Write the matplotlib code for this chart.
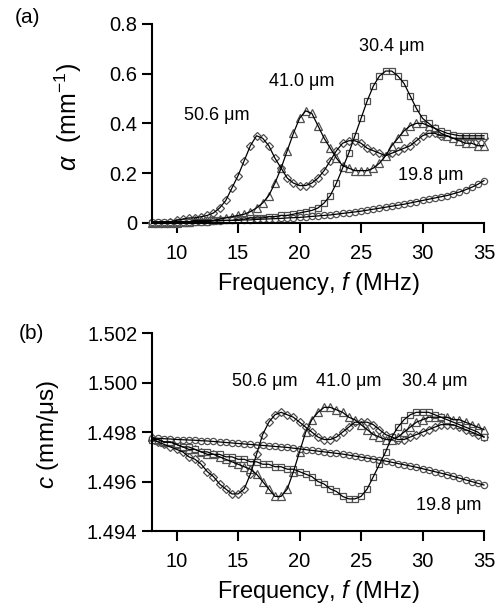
import matplotlib
matplotlib.use("Agg")
import matplotlib.pyplot as plt
import numpy as np

plt.rcParams['font.family'] = ['Liberation Sans', 'DejaVu Sans']
plt.rcParams['mathtext.fontset'] = 'custom'
plt.rcParams['mathtext.rm'] = 'Liberation Sans'
plt.rcParams['mathtext.it'] = 'Liberation Sans:italic'

# frequency grid of the measured points (MHz)
freq = np.arange(8, 35.01, 0.5)

# attenuation alpha (1/mm), panel (a)
alpha_506 = [0.00, 0.00, 0.00, 0.005, 0.01, 0.015, 0.02, 0.02, 0.025, 0.03,
             0.04, 0.06, 0.09, 0.14, 0.19, 0.25, 0.31, 0.35, 0.34, 0.31,
             0.26, 0.22, 0.18, 0.16, 0.15, 0.15, 0.16, 0.18, 0.21, 0.25,
             0.29, 0.32, 0.33, 0.33, 0.32, 0.30, 0.29, 0.28, 0.27, 0.28,
             0.29, 0.30, 0.31, 0.33, 0.35, 0.36, 0.36, 0.35, 0.35, 0.34,
             0.34, 0.34, 0.34, 0.34, 0.34]
alpha_410 = [0.00, 0.00, 0.00, 0.00, 0.00, 0.005, 0.005, 0.01, 0.01, 0.01,
             0.01, 0.015, 0.02, 0.025, 0.03, 0.035, 0.045, 0.06, 0.08, 0.11,
             0.16, 0.22, 0.29, 0.36, 0.42, 0.45, 0.44, 0.39, 0.34, 0.30,
             0.26, 0.23, 0.22, 0.21, 0.21, 0.21, 0.22, 0.24, 0.27, 0.31,
             0.34, 0.37, 0.39, 0.40, 0.40, 0.39, 0.38, 0.36, 0.35, 0.34,
             0.33, 0.32, 0.32, 0.31, 0.31]
alpha_304 = [0.00, 0.00, 0.00, 0.00, 0.00, 0.00, 0.00, 0.005, 0.005, 0.005,
             0.01, 0.01, 0.01, 0.01, 0.015, 0.015, 0.02, 0.02, 0.02, 0.025,
             0.025, 0.03, 0.03, 0.035, 0.04, 0.045, 0.05, 0.06, 0.08, 0.11,
             0.16, 0.22, 0.28, 0.35, 0.42, 0.49, 0.55, 0.59, 0.61, 0.61,
             0.59, 0.56, 0.51, 0.46, 0.42, 0.40, 0.38, 0.37, 0.36, 0.355,
             0.35, 0.35, 0.35, 0.35, 0.35]
alpha_198 = [0.005, 0.005, 0.005, 0.005, 0.005, 0.005, 0.005, 0.005, 0.005, 0.005,
             0.008, 0.008, 0.01, 0.01, 0.01, 0.012, 0.012, 0.014, 0.015, 0.016,
             0.017, 0.018, 0.02, 0.021, 0.022, 0.024, 0.026, 0.028, 0.03, 0.032,
             0.035, 0.038, 0.041, 0.044, 0.047, 0.051, 0.055, 0.059, 0.063, 0.067,
             0.071, 0.075, 0.08, 0.085, 0.09, 0.095, 0.10, 0.105, 0.11, 0.117,
             0.124, 0.133, 0.143, 0.155, 0.17]

# phase velocity c (mm/us), panel (b)
c_506 = [1.4977, 1.4976, 1.4975, 1.4974, 1.4973, 1.4972, 1.4970, 1.4969, 1.4967, 1.4964,
         1.4962, 1.4959, 1.4957, 1.4955, 1.4955, 1.4957, 1.4963, 1.4971, 1.4979, 1.4984,
         1.4987, 1.4988, 1.4987, 1.4986, 1.4984, 1.4982, 1.4980, 1.4978, 1.4977, 1.4977,
         1.4978, 1.4980, 1.4982, 1.4984, 1.4984, 1.4984, 1.4983, 1.4981, 1.4979, 1.4978,
         1.4977, 1.4977, 1.4978, 1.4979, 1.4980, 1.4981, 1.4982, 1.4983, 1.4983, 1.4983,
         1.4982, 1.4981, 1.4980, 1.4979, 1.4978]
c_410 = [1.4978, 1.4977, 1.4976, 1.4976, 1.4975, 1.4974, 1.4973, 1.4973, 1.4972, 1.4971,
         1.4971, 1.4970, 1.4969, 1.4968, 1.4967, 1.4966, 1.4965, 1.4963, 1.4960, 1.4957,
         1.4954, 1.4954, 1.4957, 1.4964, 1.4972, 1.4980, 1.4985, 1.4988, 1.4990, 1.4990,
         1.4989, 1.4988, 1.4986, 1.4985, 1.4983, 1.4981, 1.4979, 1.4978, 1.4977, 1.4977,
         1.4978, 1.4980, 1.4982, 1.4984, 1.4985, 1.4986, 1.4986, 1.4986, 1.4986, 1.4985,
         1.4985, 1.4984, 1.4983, 1.4982, 1.4981]
c_304 = [1.4977, 1.4977, 1.4976, 1.4976, 1.4975, 1.4974, 1.4974, 1.4973, 1.4972, 1.4972,
         1.4971, 1.4971, 1.4970, 1.4970, 1.4969, 1.4969, 1.4968, 1.4968, 1.4967, 1.4967,
         1.4966, 1.4966, 1.4965, 1.4965, 1.4964, 1.4963, 1.4962, 1.4960, 1.4959, 1.4957,
         1.4956, 1.4954, 1.4953, 1.4953, 1.4954, 1.4957, 1.4962, 1.4967, 1.4972, 1.4978,
         1.4982, 1.4985, 1.4987, 1.4988, 1.4988, 1.4988, 1.4987, 1.4986, 1.4985, 1.4984,
         1.4983, 1.4982, 1.4981, 1.4980, 1.4978]
c_198 = [1.49775, 1.49775, 1.49773, 1.49772, 1.49770, 1.49769, 1.49768, 1.49767, 1.49765, 1.49764,
         1.49762, 1.49760, 1.49758, 1.49756, 1.49754, 1.49752, 1.49750, 1.49748, 1.49746, 1.49744,
         1.49742, 1.49740, 1.49738, 1.49735, 1.49732, 1.49729, 1.49726, 1.49723, 1.49720, 1.49717,
         1.49714, 1.49711, 1.49707, 1.49703, 1.49699, 1.49695, 1.49691, 1.49687, 1.49683, 1.49678,
         1.49673, 1.49668, 1.49663, 1.49658, 1.49652, 1.49646, 1.49640, 1.49634, 1.49628, 1.49621,
         1.49614, 1.49607, 1.49600, 1.49593, 1.49586]

thickness = ["50.6 \u03bcm", "41.0 \u03bcm", "30.4 \u03bcm", "19.8 \u03bcm"]
markers = ["D", "^", "s", "o"]
msizes = [4.5, 5.5, 4.5, 4.5]

fig = plt.figure(figsize=(5, 6.09), dpi=100)
ax1 = fig.add_axes([0.304, 0.634, 0.664, 0.327])
ax2 = fig.add_axes([0.304, 0.128, 0.664, 0.325])

def draw_series(ax, ys):
	for y, m, ms in zip(ys, markers, msizes):
		ax.plot(freq, y, linestyle='none', marker=m, markersize=ms, markerfacecolor='white',
				markeredgecolor='#505050', markeredgewidth=0.9, clip_on=False, zorder=2)
		ax.plot(freq, y, color='black', linewidth=0.9, zorder=3, clip_on=False)

def style(ax):
	ax.spines['top'].set_visible(False)
	ax.spines['right'].set_visible(False)
	ax.spines['left'].set_linewidth(1.5)
	ax.spines['bottom'].set_linewidth(1.5)
	ax.tick_params(direction='out', length=7, width=1.5, labelsize=14.5)
	ax.tick_params(axis='x', pad=8)
	ax.set_xlim(8, 35)
	ax.set_xticks([10, 15, 20, 25, 30, 35])
	ax.set_xlabel("Frequency, $f$ (MHz)", fontsize=17, labelpad=5)

# panel (a)
draw_series(ax1, [alpha_506, alpha_410, alpha_304, alpha_198])
style(ax1)
ax1.set_ylim(0, 0.8)
ax1.set_yticks([0, 0.2, 0.4, 0.6, 0.8])
ax1.set_yticklabels(["0", "0.2", "0.4", "0.6", "0.8"])
ax1.set_ylabel("$\\alpha$  (mm$^{-1}$)", fontsize=18)
ax1.yaxis.set_label_coords(-0.205, 0.53)
ax1.text(13.3, 0.43, thickness[0], ha='center', va='center', fontsize=13)
ax1.text(20.2, 0.57, thickness[1], ha='center', va='center', fontsize=13)
ax1.text(27.5, 0.71, thickness[2], ha='center', va='center', fontsize=13)
ax1.text(30.7, 0.19, thickness[3], ha='center', va='center', fontsize=13)

# panel (b)
draw_series(ax2, [c_506, c_410, c_304, c_198])
style(ax2)
ax2.set_ylim(1.494, 1.502)
ax2.set_yticks([1.494, 1.496, 1.498, 1.500, 1.502])
ax2.set_yticklabels(["1.494", "1.496", "1.498", "1.500", "1.502"])
ax2.set_ylabel("$c$ (mm/\u03bcs)", fontsize=17.5)
ax2.yaxis.set_label_coords(-0.275, 0.485)
ax2.text(17.2, 1.50006, thickness[0], ha='center', va='center', fontsize=13)
ax2.text(24.0, 1.50006, thickness[1], ha='center', va='center', fontsize=13)
ax2.text(31.0, 1.50006, thickness[2], ha='center', va='center', fontsize=13)
ax2.text(32.1, 1.49505, thickness[3], ha='center', va='center', fontsize=13)

fig.text(0.056, 0.972, "(a)", fontsize=15, ha='center', va='center')
fig.text(0.062, 0.452, "(b)", fontsize=15, ha='center', va='center')

fig.savefig("out.png", dpi=100)
